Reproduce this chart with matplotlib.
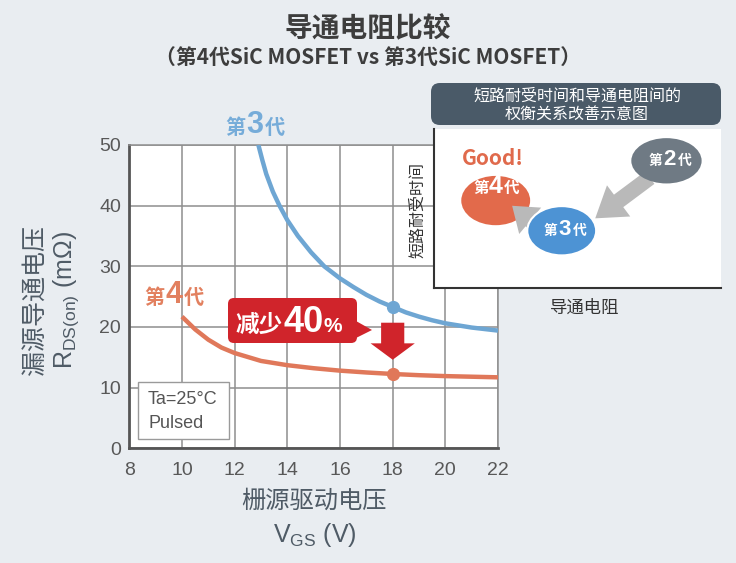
import numpy as np
import matplotlib.pyplot as plt
from matplotlib.patches import FancyBboxPatch, Ellipse, Polygon, FancyArrowPatch, Rectangle

plt.rcParams['font.family'] = ['Noto Sans CJK SC', 'DejaVu Sans']

# values
vgs_gen3 = [12.9, 13.05, 13.2, 13.45, 13.7, 14.0, 14.4, 14.9, 15.4, 16.0, 16.5, 17.0,
            17.5, 18.0, 18.5, 19.0, 19.5, 20.0, 21.0, 22.0]
ron_gen3 = [50.0, 47.5, 45.2, 42.3, 40.0, 37.6, 35.0, 32.3, 30.0, 28.0, 26.6, 25.3,
            24.2, 23.3, 22.4, 21.7, 21.1, 20.6, 19.9, 19.4]
vgs_gen4 = [10.0, 10.5, 11.0, 11.5, 12.0, 13.0, 14.0, 15.0, 16.0, 17.0, 18.0, 19.0,
            20.0, 21.0, 22.0]
ron_gen4 = [21.7, 19.6, 17.9, 16.6, 15.7, 14.4, 13.7, 13.2, 12.8, 12.5, 12.25, 12.05,
            11.9, 11.8, 11.7]
mark_vgs = 18.0
x_ticks = [8, 10, 12, 14, 16, 18, 20, 22]
y_ticks = [0, 10, 20, 30, 40, 50]

BG = '#e9edf1'
BLUE = '#6ea6d3'
ORANGE = '#e0785a'
RED = '#d0242b'
TXT = '#4f5b66'
NUM = 'Liberation Sans'

W, H = 736.0, 563.0
def fx(px):
    return px / W
def fy(py):
    return 1 - py / H

fig = plt.figure(figsize=(7.36, 5.63), dpi=100, facecolor=BG)
ax = fig.add_axes([0.1757, 0.2037, 0.501, 0.5389])
ax.set_facecolor('white')
ax.set_xlim(8, 22)
ax.set_ylim(0, 50)
ax.set_xticks(x_ticks)
ax.set_yticks(y_ticks)
ax.grid(True, color='#8e8e8e', linewidth=1.1)
ax.set_axisbelow(True)
ax.tick_params(length=0, labelsize=14, labelcolor='#585858')
ax.tick_params(axis='x', pad=10)
ax.tick_params(axis='y', pad=6)
for lab in ax.get_xticklabels() + ax.get_yticklabels():
    lab.set_family(NUM)
for s in ['top', 'right']:
    ax.spines[s].set_color('#8e8e8e')
    ax.spines[s].set_linewidth(1.1)
for s in ['left', 'bottom']:
    ax.spines[s].set_color('#555555')
    ax.spines[s].set_linewidth(2)

ax.plot(vgs_gen3, ron_gen3, color=BLUE, lw=3.2, solid_capstyle='butt', zorder=3)
ax.plot(vgs_gen4, ron_gen4, color=ORANGE, lw=3.2, solid_capstyle='butt', zorder=3)
r3 = ron_gen3[vgs_gen3.index(mark_vgs)]
r4 = ron_gen4[vgs_gen4.index(mark_vgs)]
ax.plot([mark_vgs], [r3], 'o', color=BLUE, ms=8.5, zorder=4)
ax.plot([mark_vgs], [r4], 'o', color=ORANGE, ms=8.5, zorder=4)

# generation labels
def gen_label(x, y, num, color):
    ax.text(x - 0.36, y, '第', color=color, fontsize=14.5, fontweight='bold',
            ha='right', va='center', clip_on=False)
    ax.text(x, y + 0.3, num, color=color, fontsize=22, fontweight='bold',
            ha='center', va='center', family=NUM, clip_on=False)
    ax.text(x + 0.38, y, '代', color=color, fontsize=14.5, fontweight='bold',
            ha='left', va='center', clip_on=False)

gen_label(12.77, 52.9, '3', '#76acd9')
gen_label(9.7, 24.9, '4', '#e2805f')

# red down arrow between the two marked points
arrow = Polygon([[mark_vgs - 0.44, 20.7], [mark_vgs + 0.44, 20.7],
                 [mark_vgs + 0.44, 17.3], [mark_vgs + 0.84, 17.3],
                 [mark_vgs, 14.6], [mark_vgs - 0.84, 17.3],
                 [mark_vgs - 0.44, 17.3]], closed=True, fc=RED, ec='none', zorder=5)
ax.add_patch(arrow)

# "减少40%" callout
box = FancyBboxPatch((fx(228), fy(343)), fx(357) - fx(228), fy(298) - fy(343),
                     boxstyle='round,pad=0,rounding_size=0.008', mutation_aspect=W / H,
                     transform=fig.transFigure, fc=RED, ec='none', zorder=6)
fig.add_artist(box)
tail = Polygon([[fx(356), fy(321)], [fx(372), fy(330)], [fx(356), fy(338)]], closed=True,
               transform=fig.transFigure, fc=RED, ec='none', zorder=6)
fig.add_artist(tail)
fig.text(fx(236), fy(332), '减少', color='white', fontsize=17, fontweight='bold',
         ha='left', va='baseline', zorder=7)
fig.text(fx(284), fy(332), '40', color='white', fontsize=26, fontweight='bold',
         ha='left', va='baseline', family=NUM, zorder=7)
fig.text(fx(323), fy(332), '%', color='white', fontsize=15, fontweight='bold',
         ha='left', va='baseline', family=NUM, zorder=7)

# Ta box
fig.add_artist(Rectangle((fx(138), fy(439)), fx(229) - fx(138), fy(382) - fy(439),
                         transform=fig.transFigure, fc='white', ec='#9a9a9a', lw=1,
                         zorder=5))
fig.text(fx(148), fy(400), 'Ta=25°C', fontsize=13, color='#555555', family=NUM,
         ha='left', va='center', zorder=6)
fig.text(fx(148), fy(423), 'Pulsed', fontsize=13, color='#555555', family=NUM,
         ha='left', va='center', zorder=6)

# axis labels
fig.text(fx(314), fy(501), '栅源驱动电压', fontsize=17.5, color=TXT, ha='center', va='center')
fig.text(fx(315), fy(535), r'V$_{\mathregular{GS}}$ (V)', fontsize=18, color=TXT,
         family=NUM, ha='center', va='center')
fig.text(fx(36), fy(300), '漏源导通电压', fontsize=18, color=TXT, ha='center', va='center',
         rotation=90)
fig.text(fx(66), fy(300), r'R$_{\mathregular{DS(on)}}$ (mΩ)', fontsize=18, color=TXT,
         family=NUM, ha='center', va='center', rotation=90)

# titles
fig.text(0.5, fy(29), '导通电阻比较', fontsize=20, fontweight='bold', color='#3d3d3d',
         ha='center', va='center')
fig.text(0.5, fy(57), '（第4代SiC MOSFET vs 第3代SiC MOSFET）', fontsize=15,
         fontweight='bold', color='#3d3d3d', ha='center', va='center')

# inset: trade-off diagram
header = FancyBboxPatch((fx(431), fy(125)), fx(721) - fx(431), fy(83) - fy(125),
                        boxstyle='round,pad=0,rounding_size=0.012', mutation_aspect=W / H,
                        transform=fig.transFigure, fc='#4a5a68', ec='none', zorder=8)
fig.add_artist(header)
fig.text(fx(577), fy(96), '短路耐受时间和导通电阻间的', fontsize=11.5, color='white',
         ha='center', va='center', zorder=9)
fig.text(fx(577), fy(114), '权衡关系改善示意图', fontsize=11.5, color='white',
         ha='center', va='center', zorder=9)

ins = fig.add_axes([fx(434), fy(288), fx(721) - fx(434), fy(129) - fy(288)])
ins.set_facecolor('white')
ins.set_xlim(0, 1)
ins.set_ylim(0, 1)
ins.set_xticks([])
ins.set_yticks([])
for s in ['top', 'right']:
    ins.spines[s].set_visible(False)
for s in ['left', 'bottom']:
    ins.spines[s].set_color('#333333')
    ins.spines[s].set_linewidth(1.5)

def ipos(px, py):
    return ((px - 434) / 287.0, (288 - py) / 159.0)

ins.add_patch(FancyArrowPatch(ipos(652, 176), ipos(593, 220),
                              arrowstyle='simple,head_width=2.0,head_length=1.5,tail_width=0.8',
                              mutation_scale=14, fc='#b9b9b9', ec='none', zorder=2))
ins.add_patch(FancyArrowPatch(ipos(540, 229), ipos(510, 204),
                              arrowstyle='simple,head_width=1.9,head_length=1.3,tail_width=0.8',
                              mutation_scale=13, fc='#b9b9b9', ec='none', zorder=3.5))
ins.add_patch(Ellipse((0.215, 0.55), 0.24, 0.31, fc='#e26a4b', ec='none', zorder=3))
ins.add_patch(Ellipse((0.445, 0.36), 0.24, 0.31, fc='#4d93d4', ec='white', lw=1.5, zorder=4))
ins.add_patch(Ellipse((0.81, 0.80), 0.245, 0.285, fc='#6f7a84', ec='none', zorder=3))

def ins_label(x, y, num, size):
    ins.text(x - 0.025, y, '第', color='white', fontsize=size * 0.62, fontweight='bold',
             ha='right', va='center', zorder=5)
    ins.text(x, y + 0.01, num, color='white', fontsize=size, fontweight='bold',
             ha='center', va='center', family=NUM, zorder=5)
    ins.text(x + 0.028, y, '代', color='white', fontsize=size * 0.62, fontweight='bold',
             ha='left', va='center', zorder=5)

ins_label(0.215, 0.63, '4', 18)
ins_label(0.455, 0.36, '3', 16)
ins_label(0.82, 0.80, '2', 16)
ins.text(0.205, 0.815, 'Good!', color='#e06a4c', fontsize=15, fontweight='bold',
         ha='center', va='center', zorder=5)

fig.text(fx(418), fy(210), '短路耐受时间', fontsize=11.5, color='#333333', ha='center',
         va='center', rotation=90, zorder=8)
fig.text(fx(585), fy(308), '导通电阻', fontsize=12.5, color='#333333', ha='center',
         va='center')

plt.savefig('out.png', dpi=100, facecolor=BG)
